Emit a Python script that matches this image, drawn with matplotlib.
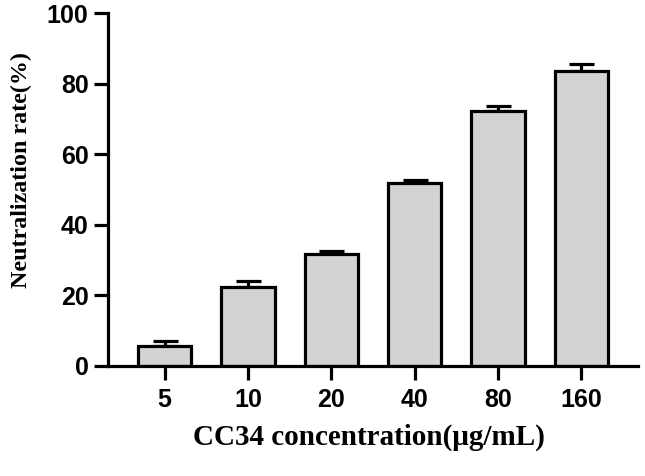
import matplotlib
matplotlib.use('Agg')
import matplotlib.pyplot as plt
import numpy as np

# data
concentrations = ['5', '10', '20', '40', '80', '160']
rate_mean = [5.7, 22.4, 31.6, 51.8, 72.3, 83.7]
rate_err = [1.3, 1.6, 0.9, 1.0, 1.3, 2.0]

fig = plt.figure(figsize=(6.45, 4.76), dpi=100)
ax = fig.add_axes([0.1674, 0.2317, 0.8216, 0.7403])

x = np.arange(len(concentrations))
ax.bar(x, rate_mean, width=0.64, color='#d3d3d3', edgecolor='black', linewidth=2.3, zorder=2)
ax.errorbar(x, rate_mean, yerr=[np.zeros(len(rate_err)), rate_err], fmt='none',
            ecolor='black', elinewidth=2.3, capsize=9, capthick=2.3, zorder=1)

ax.set_xlim(-0.68, 5.68)
ax.set_ylim(0, 100)
ax.set_yticks([0, 20, 40, 60, 80, 100])
ax.set_xticks(x)
ax.set_xticklabels(concentrations)

for s in ['top', 'right']:
    ax.spines[s].set_visible(False)
for s in ['left', 'bottom']:
    ax.spines[s].set_linewidth(2.3)

ax.tick_params(axis='both', direction='out', length=10, width=2.3, labelsize=18)
ax.tick_params(axis='x', pad=6)
ax.tick_params(axis='y', pad=4)
for lab in ax.get_xticklabels() + ax.get_yticklabels():
    lab.set_fontfamily('Liberation Sans')
    lab.set_fontweight('bold')

fig.text(0.034, 0.643, 'Neutralization rate(%)', rotation=90, ha='center', va='center',
         fontfamily='Liberation Serif', fontweight='bold', fontsize=17.3)
fig.text(0.572, 0.082, 'CC34 concentration(μg/mL)', ha='center', va='center',
         fontfamily='Liberation Serif', fontweight='bold', fontsize=21)

fig.savefig('out.png', dpi=100)
